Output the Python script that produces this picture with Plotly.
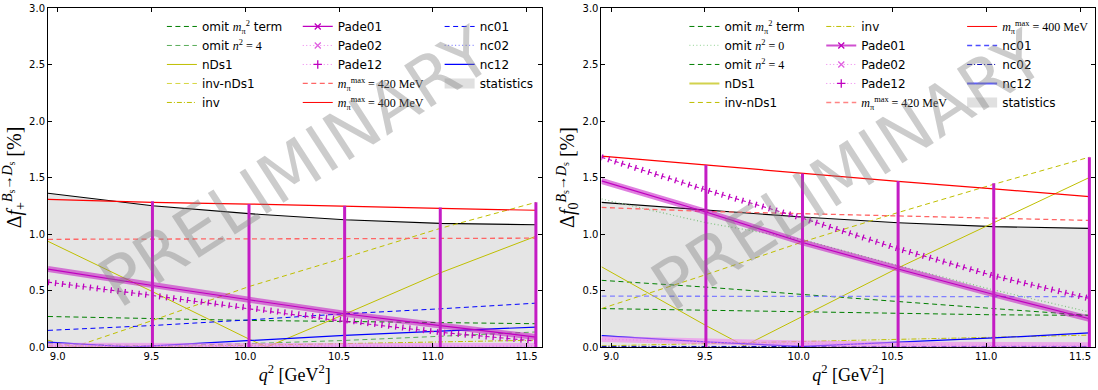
import plotly.graph_objects as go

# ---------------- data ----------------
q2_grid = [8.948, 9.505, 10.02, 10.53, 11.04, 11.55]
q2_err = [9.505, 10.02, 10.53, 11.04, 11.55]
x_ticks = [9.0, 9.5, 10.0, 10.5, 11.0, 11.5]
x_tick_labels = ["9.0", "9.5", "10.0", "10.5", "11.0", "11.5"]
y_ticks = [0.0, 0.5, 1.0, 1.5, 2.0, 2.5, 3.0]
y_tick_labels = ["0.0", "0.5", "1.0", "1.5", "2.0", "2.5", "3.0"]

# --- f_+ panel (left), values in % ---
fp_statistics = [1.36, 1.25, 1.18, 1.126, 1.094, 1.082]
fp_m400 = [1.306, 1.28, 1.265, 1.244, 1.226, 1.21]
fp_m420 = [0.953, 0.955, 0.955, 0.958, 0.96, 0.963]
fp_omit_m2 = [0.27, 0.25, 0.235, 0.226, 0.215, 0.206]
fp_omit_n4 = [0.03, 0.01, 0.03, 0.058, 0.095, 0.133]
fp_nDs1_q2 = [8.948, 9.505, 10.02, 10.115, 10.53, 11.04, 11.55]
fp_nDs1 = [0.935, 0.49, 0.07, 0.0, 0.29, 0.656, 0.98]
fp_inv_nDs1_q2 = [8.948, 9.086, 9.505, 10.02, 10.53, 11.04, 11.55]
fp_inv_nDs1 = [0.06, 0.0, 0.235, 0.535, 0.79, 1.05, 1.28]
fp_inv = [0.01, 0.005, 0.015, 0.03, 0.045, 0.06]
fp_pade01 = [0.69, 0.544, 0.418, 0.294, 0.19, 0.088]
fp_pade02 = [0.01, 0.008, 0.008, 0.008, 0.008, 0.008]
fp_pade12 = [0.574, 0.456, 0.338, 0.226, 0.13, 0.053]
fp_nc01 = [0.147, 0.19, 0.24, 0.294, 0.338, 0.388]
fp_nc02 = [0.008, 0.008, 0.008, 0.008, 0.008, 0.008]
fp_nc12_q2 = [8.948, 9.4, 9.505, 10.02, 10.53, 11.04, 11.55]
fp_nc12 = [0.044, 0.0, 0.01, 0.059, 0.103, 0.141, 0.176]
fp_total = [1.29, 1.265, 1.25, 1.235, 1.28]

# --- f_0 panel (right), values in % ---
f0_statistics = [1.28, 1.21, 1.15, 1.10, 1.065, 1.05]
f0_m400 = [1.69, 1.61, 1.54, 1.465, 1.40, 1.33]
f0_m420 = [1.235, 1.20, 1.18, 1.16, 1.14, 1.12]
f0_omit_m2 = [0.59, 0.53, 0.465, 0.40, 0.34, 0.28]
f0_omit_n0 = [1.31, 1.10, 0.95, 0.72, 0.505, 0.31]
f0_omit_n4 = [0.34, 0.325, 0.31, 0.295, 0.285, 0.28]
f0_nDs1_q2 = [8.948, 9.505, 9.71, 10.02, 10.53, 11.04, 11.55]
f0_nDs1 = [0.71, 0.19, 0.01, 0.27, 0.70, 1.10, 1.50]
f0_inv_nDs1 = [0.34, 0.64, 0.93, 1.19, 1.44, 1.68]
f0_inv = [0.01, 0.03, 0.05, 0.07, 0.09, 0.105]
f0_pade01 = [1.47, 1.195, 0.925, 0.69, 0.465, 0.25]
f0_pade02 = [0.07, 0.045, 0.03, 0.02, 0.015, 0.015]
f0_pade12 = [1.68, 1.39, 1.14, 0.87, 0.63, 0.43]
f0_nc01 = [0.45, 0.45, 0.45, 0.45, 0.447, 0.445]
f0_nc02 = [0.005, 0.005, 0.005, 0.005, 0.005, 0.005]
f0_nc12 = [0.10, 0.045, 0.005, 0.04, 0.08, 0.125]
f0_total = [1.61, 1.535, 1.47, 1.45, 1.68]

# ---------------- styles ----------------
DASH = "5px,3.5px"
DOT = "1px,2.5px"
DASHDOT = "5px,2px,1px,2px"
GREEN_D = "#007f00"
GREEN_M = "#59ac59"
GREEN_L = "#80c080"
YEL = "#bfbf00"
YEL_L = "#d6d640"
RED = "#ff0000"
RED_L = "#ff6666"
BLUE = "#0000ff"
BLUE_L = "#8080ff"
BLUE_D = "#0000b0"
MAG = "#bf00bf"
MAG_L = "rgba(191,0,191,0.5)"
PINK = "#ee82ee"
BAND = "#e5e5e5"

SERIF = "Liberation Serif"
SANS = "DejaVu Sans"

fig = go.Figure()

# ---------------- legend entries (added first) ----------------
MPI2 = "<span style='font-family:%s'><i>m</i><sub>π</sub><sup>2</sup></span>" % SERIF


def n2(v):
    return "<span style='font-family:%s'><i>n</i><sup>2</sup> = %s</span>" % (SERIF, v)


def mmax(v):
    return "<span style='font-family:%s'><i>m</i><sub>π</sub><sup>max</sup> = %s MeV</span>" % (SERIF, v)


def entry(name, leg, color=None, dash="solid", width=1.0, marker=None):
    kw = dict(mode="lines")
    if marker:
        kw = dict(mode="lines+markers",
                  marker=dict(symbol=marker[0], size=6, color=marker[1],
                              line=dict(color=marker[1], width=1.3)))
    fig.add_trace(go.Scatter(x=[None], y=[None], name=name, legend=leg, showlegend=True,
                             line=dict(color=color, dash=dash, width=width), **kw))


# left panel legend columns
entry("omit " + MPI2 + " term", "legend", GREEN_D, DASH)
entry("omit " + n2(4), "legend", GREEN_M, DASH)
entry("nDs1", "legend", YEL)
entry("inv-nDs1", "legend", YEL_L, DASH)
entry("inv", "legend", YEL, DASHDOT)
entry("Pade01", "legend2", MAG, "solid", 1.3, ("x-thin", MAG))
entry("Pade02", "legend2", PINK, DOT, 1.0, ("x-thin", "#e060e0"))
entry("Pade12", "legend2", PINK, DOT, 1.0, ("cross-thin", MAG))
entry(mmax(420), "legend2", RED_L, DASH, 1.3)
entry(mmax(400), "legend2", RED)
entry("nc01", "legend3", BLUE, DASH)
entry("nc02", "legend3", "#8484ff", DOT, 1.3)
entry("nc12", "legend3", BLUE, "solid", 1.3)
entry("statistics", "legend3", "#e0e0e0", "solid", 10)

# right panel legend columns
entry("omit " + MPI2 + " term", "legend4", GREEN_D, DASH)
entry("omit " + n2(0), "legend4", "#a6daa6", DOT, 1.3)
entry("omit " + n2(4), "legend4", GREEN_D, DASH)
entry("nDs1", "legend4", "#d2d24d", "solid", 2)
entry("inv-nDs1", "legend4", YEL, DASH)
entry("inv", "legend5", YEL, DASHDOT)
entry("Pade01", "legend5", "#d050d0", "solid", 2, ("x-thin", MAG))
entry("Pade02", "legend5", PINK, DOT, 1.0, ("x-thin", "#e060e0"))
entry("Pade12", "legend5", PINK, DOT, 1.0, ("cross-thin", MAG))
entry(mmax(420), "legend5", "#ff8484", DASH, 1.6)
entry(mmax(400), "legend6", RED)
entry("nc01", "legend6", "#4d4dff", DASH, 1.6)
entry("nc02", "legend6", BLUE_D, DASHDOT)
entry("nc12", "legend6", "#5e5eff", "solid", 2)
entry("statistics", "legend6", "#e0e0e0", "solid", 10)


# ---------------- data traces ----------------
def add_line(x, y, xa, ya, color, dash="solid", width=1.0):
    fig.add_trace(go.Scatter(x=x, y=y, mode="lines", xaxis=xa, yaxis=ya,
                             line=dict(color=color, dash=dash, width=width),
                             showlegend=False, hoverinfo="skip"))


def add_pade_x(x, y, xa, ya, band_color, core_color, core_dash="solid"):
    # dense 'x' markers rendered as a thick translucent band
    add_line(x, y, xa, ya, band_color, "solid", 6)
    add_line(x, y, xa, ya, core_color, core_dash, 1.2)


def add_pade_plus(x, y, xa, ya, color):
    # dense '+' markers rendered as perpendicular ticks on a line
    add_line(x, y, xa, ya, color, "1.3px,5.7px", 6)
    add_line(x, y, xa, ya, color, "4px,3px", 1.1)


def add_errbars(xv, top, xa, ya):
    xs, ys = [], []
    for q, t in zip(xv, top):
        xs += [q, q, None]
        ys += [0, t, None]
    fig.add_trace(go.Scatter(x=xs, y=ys, mode="lines", xaxis=xa, yaxis=ya,
                             line=dict(color="#c41cc4", width=3),
                             showlegend=False, hoverinfo="skip"))


def add_stats(x, y, xa, ya):
    fig.add_trace(go.Scatter(x=x, y=y, mode="lines", fill="tozeroy", fillcolor=BAND,
                             xaxis=xa, yaxis=ya, line=dict(color="black", width=1.1),
                             showlegend=False, hoverinfo="skip"))


# ---- left panel f_+ ----
add_stats(q2_grid, fp_statistics, "x", "y")
add_line(q2_grid, fp_omit_m2, "x", "y", GREEN_D, DASH)
add_line(q2_grid, fp_omit_n4, "x", "y", GREEN_M, DASH)
add_line(fp_nDs1_q2, fp_nDs1, "x", "y", YEL)
add_line(fp_inv_nDs1_q2, fp_inv_nDs1, "x", "y", YEL, DASH)
add_line(q2_grid, fp_inv, "x", "y", YEL, DASHDOT)
add_line(q2_grid, fp_m420, "x", "y", RED_L, DASH, 1.3)
add_line(q2_grid, fp_m400, "x", "y", RED, "solid", 1.2)
add_line(q2_grid, fp_nc01, "x", "y", BLUE, DASH)
add_line(q2_grid, fp_nc02, "x", "y", BLUE_L, DOT)
add_line(fp_nc12_q2, fp_nc12, "x", "y", BLUE, "solid", 1.2)
add_pade_x(q2_grid, fp_pade02, "x", "y", "rgba(238,130,238,0.6)", PINK, DOT)
add_pade_plus(q2_grid, fp_pade12, "x", "y", MAG)
add_pade_x(q2_grid, fp_pade01, "x", "y", MAG_L, MAG)
add_errbars(q2_err, fp_total, "x", "y")

# ---- right panel f_0 ----
add_stats(q2_grid, f0_statistics, "x2", "y2")
add_line(q2_grid, f0_omit_m2, "x2", "y2", GREEN_D, DASH)
add_line(q2_grid, f0_omit_n0, "x2", "y2", GREEN_L, DOT, 1.2)
add_line(q2_grid, f0_omit_n4, "x2", "y2", GREEN_D, DASH)
add_line(f0_nDs1_q2, f0_nDs1, "x2", "y2", YEL)
add_line(q2_grid, f0_inv_nDs1, "x2", "y2", YEL, DASH)
add_line(q2_grid, f0_inv, "x2", "y2", YEL, DASHDOT)
add_line(q2_grid, f0_m420, "x2", "y2", RED_L, DASH, 1.3)
add_line(q2_grid, f0_m400, "x2", "y2", RED, "solid", 1.2)
add_line(q2_grid, f0_nc01, "x2", "y2", BLUE_L, DASH, 1.3)
add_line(q2_grid, f0_nc02, "x2", "y2", BLUE_D, DASHDOT)
add_line(q2_grid, f0_nc12, "x2", "y2", BLUE, "solid", 1.2)
add_pade_x(q2_grid, f0_pade02, "x2", "y2", "rgba(238,130,238,0.6)", PINK, DOT)
add_pade_plus(q2_grid, f0_pade12, "x2", "y2", MAG)
add_pade_x(q2_grid, f0_pade01, "x2", "y2", MAG_L, MAG)
add_errbars(q2_err, f0_total, "x2", "y2")

W, H = 1098, 390
ML, MR, MT, MB = 48, 2, 5, 43
PW, PH = W - ML - MR, H - MT - MB


def px_x(p):
    return (p - ML) / PW


def px_y(p):
    return (H - MB - p) / PH


def legend_cfg(xpx):
    return dict(x=px_x(xpx), y=px_y(9), xanchor="left", yanchor="top",
                bgcolor="rgba(0,0,0,0)", borderwidth=0, tracegroupgap=0,
                itemwidth=30, traceorder="normal",
                font=dict(family=SANS, size=12, color="black"))


axis_common = dict(showline=True, linecolor="black", linewidth=1, mirror="ticks",
                   ticks="inside", ticklen=4, tickcolor="black", showgrid=False,
                   zeroline=False, ticklabeloverflow="allow",
                   tickfont=dict(family=SANS, size=10, color="black"))

xa_common = dict(axis_common, range=[8.948, 11.58], tickvals=x_ticks, ticktext=x_tick_labels,
                 title=dict(text="<i>q</i><sup>2</sup> [GeV<sup>2</sup>]",
                            font=dict(family=SERIF, size=18, color="black"), standoff=3))
ya_common = dict(axis_common, range=[0, 3], tickvals=y_ticks, ticktext=y_tick_labels)

ytitle_p = "Δ<i>f</i><sub>+</sub><sup><i>B</i><sub>s</sub>→<i>D</i><sub>s</sub></sup> [%]"
ytitle_0 = "Δ<i>f</i><sub>0</sub><sup><i>B</i><sub>s</sub>→<i>D</i><sub>s</sub></sup> [%]"

left_end = (542 - ML) / PW
right_start = (602 - ML) / PW

WM_FONT = dict(family=SANS, size=68, color="rgba(128,128,128,0.4)")

fig.update_layout(
    width=W, height=H,
    margin=dict(l=ML, r=MR, t=MT, b=MB, pad=0),
    paper_bgcolor="white", plot_bgcolor="white",
    xaxis=dict(xa_common, domain=[0, left_end], anchor="y"),
    yaxis=dict(ya_common, domain=[0, 1], anchor="x",
               title=dict(text=ytitle_p, font=dict(family=SERIF, size=20, color="black"), standoff=2)),
    xaxis2=dict(xa_common, domain=[right_start, 1], anchor="y2"),
    yaxis2=dict(ya_common, domain=[0, 1], anchor="x2",
                title=dict(text=ytitle_0, font=dict(family=SERIF, size=20, color="black"), standoff=2)),
    legend=legend_cfg(162),
    legend2=legend_cfg(298),
    legend3=legend_cfg(440),
    legend4=legend_cfg(685),
    legend5=legend_cfg(822),
    legend6=legend_cfg(963),
    annotations=[
        dict(text="PRELIMINARY", xref="x domain", yref="y domain", x=0.5, y=0.53,
             showarrow=False, textangle=-33, font=WM_FONT),
        dict(text="PRELIMINARY", xref="x2 domain", yref="y2 domain", x=0.5, y=0.52,
             showarrow=False, textangle=-33, font=WM_FONT),
    ],
)

fig.write_html("out.html")
